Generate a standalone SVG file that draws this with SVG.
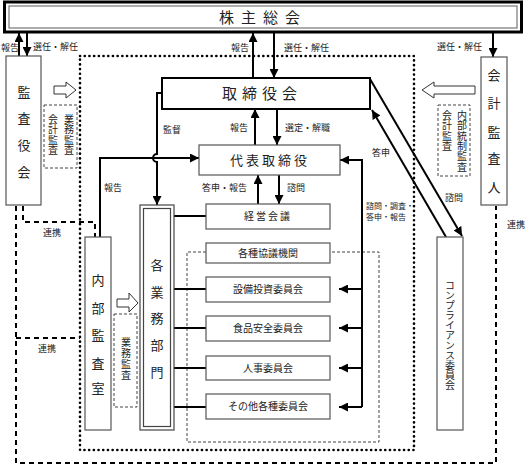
<svg xmlns="http://www.w3.org/2000/svg" width="527" height="464" viewBox="0 0 527 464">
<defs>
<marker id="ah" viewBox="0 0 10 10" refX="10" refY="5" markerWidth="4.5" markerHeight="4.5" orient="auto" markerUnits="strokeWidth"><path d="M0,0 L10,5 L0,10 z" fill="#000"/></marker>
<style>
text{font-family:"Noto Sans CJK JP","Noto Sans",sans-serif;fill:#222}
.lb{font-size:9px}
.ls{font-size:8px}
.bx{fill:#fff;stroke:#555;stroke-width:1.2}
.bt{font-size:10px;text-anchor:middle}
.vt{font-size:13px;text-anchor:middle}
.vs{font-size:10px;writing-mode:vertical-rl;text-anchor:start;letter-spacing:0.4px}
.c{fill:none;stroke:#000;stroke-width:2}
.ca{fill:none;stroke:#000;stroke-width:2;marker-end:url(#ah)}
.dot{fill:none;stroke:#000;stroke-width:2.6;stroke-linecap:round;stroke-dasharray:0.1 4.6}
.dsh{fill:none;stroke:#000;stroke-width:2;stroke-dasharray:5 4}
.thd{fill:none;stroke:#444;stroke-width:1;stroke-dasharray:3 2}
.hol{fill:#fff;stroke:#333;stroke-width:1}
</style>
</defs>

<!-- frames -->
<g id="frames">
<rect class="dot" x="80" y="56" width="334" height="394"/>
<path class="dsh" d="M16,206 V463 H496 V206"/>
<path class="dsh" d="M16,338 H80"/>
<path class="dsh" d="M23,206 V222 H95 V237"/>
<path class="thd" d="M206,252 H187 V442 H379 V252 H330"/>
</g>

<!-- connectors -->
<g id="connectors">
<path class="ca" d="M19,56 V33"/>
<path class="ca" d="M27,33 V56"/>
<path class="ca" d="M253,78 V33"/>
<path class="ca" d="M274,33 V78"/>
<path class="ca" d="M493,33 V57"/>
<path class="ca" d="M255,145 V109"/>
<path class="ca" d="M277,109 V145"/>
<path class="ca" d="M162,93 H157 V154 A4,4 0 0 0 157,162 V205"/>
<path class="ca" d="M100,237 V158 H199"/>
<path class="ca" d="M258,204 V175"/>
<path class="ca" d="M279,175 V204"/>
<path class="c" d="M174,216 H206 M174,289 H206 M174,328 H206 M174,368 H206 M174,407 H206"/>
<path class="ca" d="M362,407 V160 H340"/>
<path class="ca" d="M362,289 H339"/>
<path class="ca" d="M362,328 H339"/>
<path class="ca" d="M362,368 H339"/>
<path class="ca" d="M362,407 H339"/>
<path class="ca" d="M370,79 L462,236"/>
<path class="ca" d="M446,237 L372,110"/>
</g>

<!-- labels -->
<g id="labels">
<text class="lb" x="1" y="51">報告</text>
<text class="lb" x="33" y="50">選任・解任</text>
<text class="lb" x="231" y="51">報告</text>
<text class="lb" x="284" y="51">選任・解任</text>
<text class="lb" x="437" y="50">選任・解任</text>
<text class="lb" x="163" y="133">監督</text>
<text class="lb" x="230" y="131">報告</text>
<text class="lb" x="285" y="131">選定・解職</text>
<text class="lb" x="104" y="191">報告</text>
<text class="lb" x="202" y="191">答申・報告</text>
<text class="lb" x="287" y="191">諮問</text>
<text class="lb" x="372" y="156">答申</text>
<text class="ls" x="366" y="209">諮問・調査・</text>
<text class="ls" x="366" y="220">答申・報告</text>
<text class="lb" x="445" y="201">諮問</text>
<text class="lb" x="507" y="228">連携</text>
<text class="lb" x="43" y="236">連携</text>
<text class="lb" x="38" y="352">連携</text>
</g>

<g id="kabunushi">
<rect x="4.5" y="2" width="517" height="30" fill="#fff" stroke="#000" stroke-width="3"/>
<rect x="9" y="6" width="508" height="22" fill="none" stroke="#777" stroke-width="1.2"/>
<text x="263" y="23" font-size="15" text-anchor="middle" letter-spacing="7">株主総会</text>
</g>

<g id="kansayakukai">
<rect class="bx" x="6" y="56" width="35" height="149"/>
<text class="vt" x="24" y="97">監</text>
<text class="vt" x="24" y="123">査</text>
<text class="vt" x="24" y="150">役</text>
<text class="vt" x="24" y="177">会</text>
</g>
<g id="kansa-arrow1">
<polygon class="hol" points="54,86 66,86 66,82 76,90 66,98 66,94 54,94"/>
<rect class="thd" x="44" y="105" width="33" height="63"/>
<text class="vs" x="69" y="114">業務監査</text>
<text class="vs" x="53" y="114">会計監査</text>
</g>

<g id="kaikei">
<rect class="bx" x="481" y="57" width="26" height="148"/>
<text class="vt" x="494" y="80">会</text>
<text class="vt" x="494" y="108">計</text>
<text class="vt" x="494" y="137">監</text>
<text class="vt" x="494" y="163">査</text>
<text class="vt" x="494" y="192">人</text>
</g>
<g id="kaikei-arrow">
<polygon class="hol" points="475,86 434,86 434,82 422,90 434,98 434,94 475,94"/>
<rect class="thd" x="438" y="105" width="32" height="71"/>
<text class="vs" x="462" y="110">内部統制監査</text>
<text class="vs" x="447" y="110">会計監査</text>
</g>

<g id="torishimariyakukai">
<rect x="162" y="78" width="208" height="31" fill="#fff" stroke="#000" stroke-width="2"/>
<text x="262" y="99" font-size="15" text-anchor="middle" letter-spacing="5">取締役会</text>
</g>

<g id="daihyo">
<rect class="bx" x="199" y="145" width="141" height="30"/>
<text x="270" y="165" font-size="13" text-anchor="middle" letter-spacing="3">代表取締役</text>
</g>

<g id="kakugyomu">
<rect x="140" y="205" width="34" height="225" fill="#fff" stroke="#444" stroke-width="1.2"/>
<rect x="143.5" y="208.5" width="27" height="218" fill="none" stroke="#444" stroke-width="1.2"/>
<text class="vt" x="157" y="270">各</text>
<text class="vt" x="157" y="297">業</text>
<text class="vt" x="157" y="323">務</text>
<text class="vt" x="157" y="350">部</text>
<text class="vt" x="157" y="377">門</text>
</g>

<g id="naibukansa">
<rect class="bx" x="85" y="237" width="26" height="193"/>
<text class="vt" x="98" y="285">内</text>
<text class="vt" x="98" y="313">部</text>
<text class="vt" x="98" y="340">監</text>
<text class="vt" x="98" y="368">査</text>
<text class="vt" x="98" y="393">室</text>
</g>
<g id="naibu-arrow">
<polygon class="hol" points="117,299 129,299 129,293 138,303 129,312 129,307 117,307"/>
<rect class="thd" x="114" y="314" width="23" height="93"/>
<text class="vs" x="126" y="337" style="letter-spacing:1px">業務監査</text>
</g>

<g id="keieikaigi">
<rect class="bx" x="206" y="204" width="124" height="25"/>
<text class="bt" x="268" y="220" letter-spacing="2">経営会議</text>
</g>
<g id="kakushu">
<rect class="bx" x="206" y="243" width="124" height="20"/>
<text class="bt" x="268" y="257">各種協議機関</text>
</g>
<g id="setsubi">
<rect class="bx" x="206" y="277" width="124" height="25"/>
<text class="bt" x="268" y="293">設備投資委員会</text>
</g>
<g id="shokuhin">
<rect class="bx" x="206" y="316" width="124" height="25"/>
<text class="bt" x="268" y="332">食品安全委員会</text>
</g>
<g id="jinji">
<rect class="bx" x="206" y="356" width="124" height="24"/>
<text class="bt" x="268" y="372">人事委員会</text>
</g>
<g id="sonota">
<rect class="bx" x="206" y="394" width="124" height="25"/>
<text class="bt" x="268" y="410">その他各種委員会</text>
</g>

<g id="compliance">
<rect class="bx" x="437" y="237" width="26" height="193"/>
<text class="vs" x="450" y="280" style="letter-spacing:0">コンプライアンス委員会</text>
</g>
</svg>
